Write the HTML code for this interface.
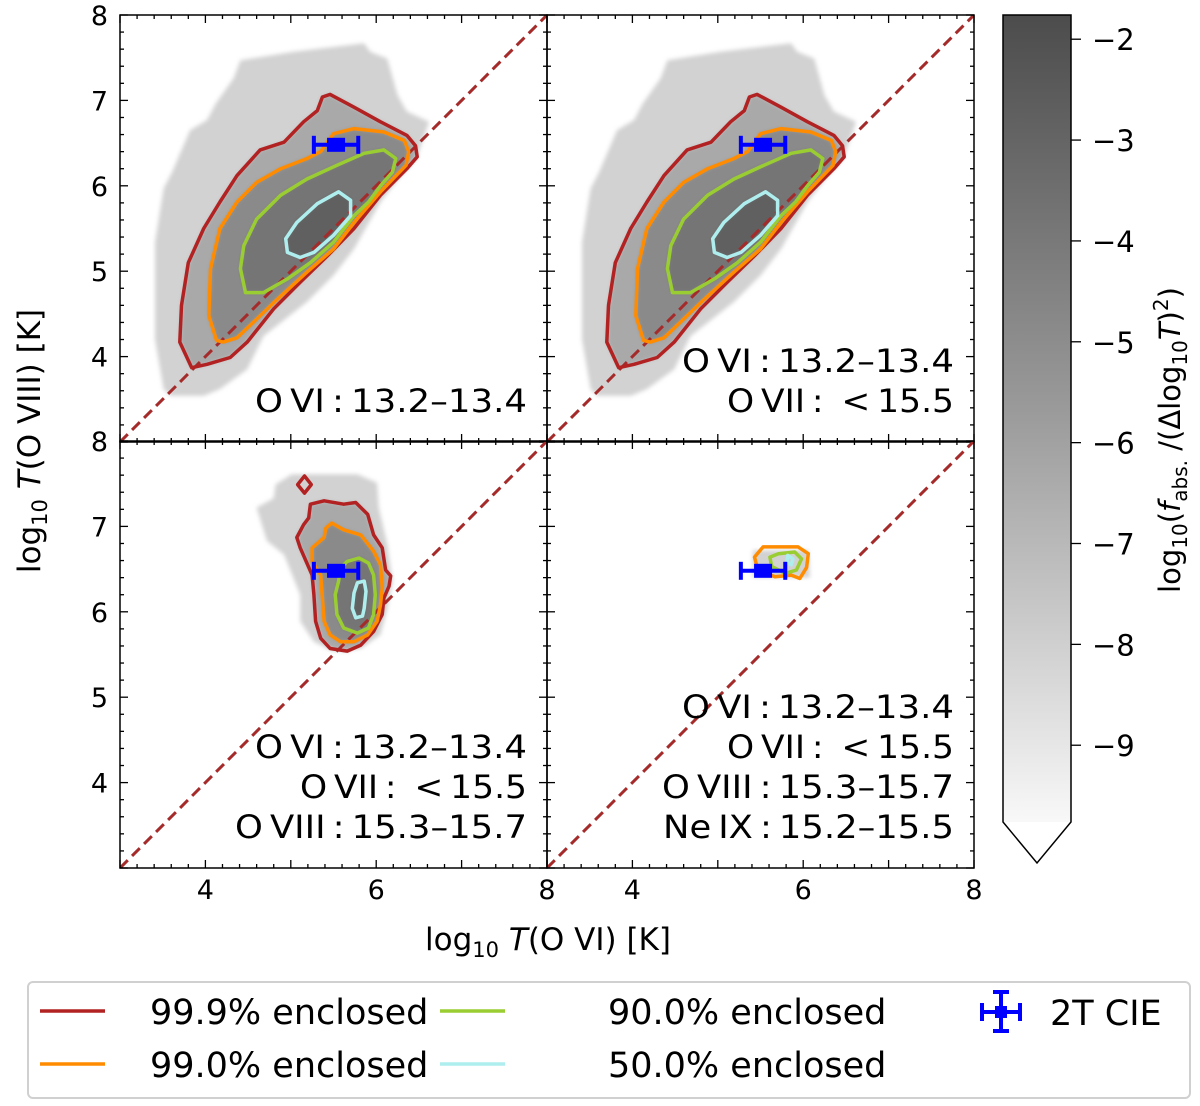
<!DOCTYPE html>
<html><head><meta charset="utf-8"><style>
html,body{margin:0;padding:0;background:#fff}
svg{display:block;font-family:"DejaVu Sans","Liberation Sans",sans-serif}
</style></head><body>
<svg id="chart" xmlns="http://www.w3.org/2000/svg" width="1200" height="1106" viewBox="0 0 1200 1106">
<defs>
<linearGradient id="cbgrad" x1="0" y1="0" x2="0" y2="1">
<stop offset="0" stop-color="#4c4c4c"/><stop offset="0.5" stop-color="#9c9c9c"/><stop offset="1" stop-color="#f8f8f8"/>
</linearGradient>
<filter id="soft" x="-10%" y="-10%" width="120%" height="120%"><feGaussianBlur stdDeviation="2"/></filter>
</defs>
<g id="panels"></g>
<g id="colorbar">
<rect x="1003" y="15" width="68" height="807" fill="url(#cbgrad)"/>
<path d="M1003,822 H1071 L1037,863 Z" fill="#fff"/>
<path d="M1003,15 H1071 V822 L1037,863 L1003,822 Z" fill="none" stroke="#000" stroke-width="1.5"/>
<text transform="translate(1180,440) rotate(-90)" text-anchor="middle" font-size="29">log<tspan font-size="20" dy="7">10</tspan><tspan dy="-7">(</tspan><tspan font-style="italic">f</tspan><tspan font-size="20" dy="7">abs.</tspan><tspan dy="-7"> /(Δlog</tspan><tspan font-size="20" dy="7">10</tspan><tspan dy="-7" font-style="italic">T</tspan><tspan>)</tspan><tspan font-size="20" dy="-12">2</tspan><tspan dy="12">)</tspan></text>
</g>
<text x="548" y="950" text-anchor="middle" font-size="31">log<tspan font-size="21" dy="7">10</tspan><tspan dy="-7" font-style="italic"> T</tspan><tspan>(O VI) [K]</tspan></text>
<text transform="translate(40,441) rotate(-90)" text-anchor="middle" font-size="31">log<tspan font-size="21" dy="7">10</tspan><tspan dy="-7" font-style="italic"> T</tspan><tspan>(O VIII) [K]</tspan></text>
<g id="legend">
<rect x="28" y="982" width="1162" height="116" rx="5" fill="#fff" stroke="#d0d0d0" stroke-width="2"/>
<g><line x1="40" y1="1011" x2="105" y2="1011" stroke="#b22222" stroke-width="3.5"/><text x="150" y="1024" font-size="35">99.9% enclosed</text></g>
<g><line x1="40" y1="1064" x2="105" y2="1064" stroke="#ff8c00" stroke-width="3.5"/><text x="150" y="1077" font-size="35">99.0% enclosed</text></g>
<g><line x1="440" y1="1011" x2="505" y2="1011" stroke="#9acd32" stroke-width="3.5"/><text x="608" y="1024" font-size="35">90.0% enclosed</text></g>
<g><line x1="440" y1="1064" x2="505" y2="1064" stroke="#afeeee" stroke-width="3.5"/><text x="608" y="1077" font-size="35">50.0% enclosed</text></g>
<g stroke="#0000ff" stroke-width="4"><line x1="982" y1="1012" x2="1020" y2="1012"/><line x1="1001" y1="992" x2="1001" y2="1031"/><line x1="982" y1="1003" x2="982" y2="1021"/><line x1="1020" y1="1003" x2="1020" y2="1021"/><line x1="993" y1="992" x2="1009" y2="992"/><line x1="993" y1="1031" x2="1009" y2="1031"/><rect x="995" y="1006" width="12" height="12" fill="#0000ff" stroke="none"/><text x="1050" y="1025" font-size="35" fill="#000" stroke="none">2T CIE</text></g>
</g>
</svg>
<script>
// ---- data (log10 T values) ----
const topGray = [[3.51,3.62],[3.41,4.20],[3.41,5.34],[3.51,5.97],[3.61,6.16],[3.82,6.65],[4.02,6.77],[4.12,6.96],[4.33,7.26],[4.41,7.47],[5.03,7.57],[5.86,7.67],[5.93,7.57],[6.13,7.49],[6.25,7.06],[6.36,6.87],[6.62,6.75],[6.50,6.40],[6.05,5.81],[5.74,5.26],[5.50,4.95],[5.19,4.64],[4.68,4.24],[4.49,3.85],[4.17,3.62],[3.98,3.54],[3.59,3.54]];
const topRed = [[3.84,3.87],[3.70,4.17],[3.72,4.60],[3.80,5.10],[3.98,5.50],[4.17,5.81],[4.37,6.12],[4.64,6.42],[4.92,6.51],[5.15,6.75],[5.31,6.88],[5.37,7.04],[5.46,7.07],[5.74,6.92],[6.05,6.75],[6.36,6.59],[6.46,6.47],[6.48,6.34],[6.36,6.20],[6.05,5.89],[5.74,5.50],[5.43,5.18],[5.11,4.87],[4.80,4.56],[4.49,4.17],[4.29,3.99],[4.02,3.91]];
const topOrange = [[4.13,4.19],[4.04,4.48],[4.06,5.03],[4.17,5.50],[4.37,5.81],[4.60,6.04],[4.88,6.20],[5.19,6.32],[5.35,6.40],[5.50,6.61],[5.74,6.67],[6.09,6.63],[6.33,6.53],[6.38,6.40],[6.35,6.24],[6.05,5.93],[5.74,5.57],[5.50,5.26],[5.19,4.99],[4.84,4.67],[4.56,4.40],[4.37,4.22],[4.21,4.17]];
const topGreen = [[4.47,4.75],[4.41,5.03],[4.45,5.30],[4.60,5.61],[4.88,5.89],[5.19,6.08],[5.54,6.24],[5.86,6.38],[6.09,6.42],[6.23,6.32],[6.19,6.16],[6.05,6.00],[5.91,5.81],[5.74,5.65],[5.50,5.34],[5.23,5.10],[4.96,4.91],[4.68,4.75]];
const topCyan = [[4.96,5.22],[4.94,5.38],[5.07,5.57],[5.31,5.79],[5.56,5.93],[5.70,5.83],[5.70,5.65],[5.50,5.42],[5.27,5.22],[5.11,5.16]];
const blGray = [[5.01,7.61],[5.78,7.61],[6.01,7.51],[6.03,7.22],[6.13,6.79],[6.19,6.36],[6.13,6.04],[6.05,5.73],[5.82,5.57],[5.50,5.54],[5.27,5.65],[5.11,5.89],[5.11,6.20],[4.92,6.67],[4.72,6.83],[4.60,7.22],[4.80,7.33],[4.82,7.49]];
const blRed = [[5.23,7.26],[5.39,7.30],[5.62,7.26],[5.76,7.28],[5.90,7.14],[5.97,6.90],[6.07,6.75],[6.11,6.49],[6.17,6.42],[6.15,6.30],[6.09,6.16],[6.07,5.97],[5.97,5.77],[5.82,5.61],[5.66,5.54],[5.46,5.57],[5.35,5.69],[5.29,5.89],[5.27,6.20],[5.25,6.43],[5.11,6.75],[5.07,6.87],[5.15,7.02],[5.21,7.10]];
const blRedIsland = [[5.16,7.59],[5.24,7.49],[5.16,7.39],[5.08,7.49]];
const blOrange = [[5.25,6.75],[5.39,6.87],[5.41,6.98],[5.48,7.04],[5.62,6.96],[5.82,6.90],[5.97,6.71],[6.05,6.55],[6.07,6.28],[6.05,6.08],[6.01,5.89],[5.90,5.73],[5.74,5.65],[5.58,5.65],[5.46,5.73],[5.39,5.89],[5.37,6.16],[5.35,6.43],[5.25,6.59]];
const blGreen = [[5.58,6.51],[5.66,6.59],[5.80,6.63],[5.91,6.57],[5.97,6.43],[5.99,6.20],[5.97,5.97],[5.91,5.81],[5.78,5.75],[5.62,5.81],[5.54,5.97],[5.52,6.20],[5.56,6.36]];
const blCyan = [[5.74,6.22],[5.78,6.34],[5.86,6.36],[5.88,6.24],[5.86,6.04],[5.84,5.95],[5.76,5.93],[5.72,6.04]];
const brGray = [[5.41,6.72],[6.06,6.72],[6.08,6.40],[5.41,6.40]];
const brOrange = [[5.43,6.64],[5.53,6.76],[5.94,6.76],[6.06,6.68],[6.04,6.52],[5.96,6.39],[5.86,6.43],[5.67,6.41],[5.47,6.49]];
const brGreen = [[5.61,6.64],[5.71,6.68],[5.90,6.70],[5.98,6.62],[5.92,6.49],[5.79,6.45],[5.63,6.53]];
const brCyan = [[5.82,6.66],[5.88,6.62],[5.86,6.55],[5.81,6.58]];
const cieX = [5.53];
const cieY = [6.48];
const cieXerr = [0.26];
const axisTicks = [4, 6, 8];
const yTicks = [8, 7, 6, 5, 4];
const cbTicks = [-2, -3, -4, -5, -6, -7, -8, -9];
const labelsTL = ["O\u2009VI\u2009:\u200913.2–13.4"];
const labelsTR = ["O\u2009VI\u2009:\u200913.2–13.4", "O\u2009VII\u2009:\u2009 <\u200915.5"];
const labelsBL = ["O\u2009VI\u2009:\u200913.2–13.4", "O\u2009VII\u2009:\u2009 <\u200915.5", "O\u2009VIII\u2009:\u200915.3–15.7"];
const labelsBR = ["O\u2009VI\u2009:\u200913.2–13.4", "O\u2009VII\u2009:\u2009 <\u200915.5", "O\u2009VIII\u2009:\u200915.3–15.7", "Ne\u2009IX\u2009:\u200915.2–15.5"];
const labelWidths = [272, 227, 292, 291];
const labelKeys = ["O\u2009VI", "O\u2009VII", "O\u2009VIII", "Ne\u2009IX"];

const NS = "http://www.w3.org/2000/svg";
const LO = 3, HI = 8, SIZE = 427;
function mk(tag, attrs, parent){ const e = document.createElementNS(NS, tag); for (const k in attrs) e.setAttribute(k, attrs[k]); parent.appendChild(e); return e; }
function widthFor(s){ const k = s.split('\u2009:')[0]; return labelWidths[labelKeys.indexOf(k)]; }

function drawPanel(name, x0, y0, layers, labels, showX, showY){
  const sx = v => x0 + (v - LO) / (HI - LO) * SIZE;
  const sy = v => y0 + (HI - v) / (HI - LO) * SIZE;
  const g = mk('g', {}, document.getElementById('panels'));
  
  
  const cid = 'clip-' + name;
  const cp = mk('clipPath', {id: cid}, g);
  mk('rect', {x: x0, y: y0, width: SIZE, height: SIZE}, cp);
  const inner = mk('g', {'clip-path': 'url(#' + cid + ')'}, g);
  const pts = arr => arr.map(p => sx(p[0]).toFixed(1) + ',' + sy(p[1]).toFixed(1)).join(' ');
  const dens = mk('g', {filter: 'url(#soft)'}, inner);
  
  
  const fills = ['#d2d2d2', '#a9a9a9', '#8a8a8a', '#747474', '#606060'];
  layers.fill.forEach((arr, i) => {
    const p = mk('polygon', {points: pts(arr), fill: fills[i]}, dens);
    
    
  });
  const d = mk('line', {x1: sx(LO), y1: sy(LO), x2: sx(HI), y2: sy(HI), stroke: '#a52a2a', 'stroke-width': 3, 'stroke-dasharray': '11,6'}, inner);
  
  
  layers.lines.forEach(l => {
    const p = mk('polygon', {points: pts(l.d), fill: 'none', stroke: l.c, 'stroke-width': 3.5, 'stroke-linejoin': 'round'}, inner);
    
    
  });
  const eb = mk('g', {stroke: '#0000ff', 'stroke-width': 4}, inner);
  
  
  const cx = sx(cieX[0]), cy = sy(cieY[0]), xl = sx(cieX[0] - cieXerr[0]), xr = sx(cieX[0] + cieXerr[0]);
  mk('line', {x1: xl, y1: cy, x2: xr, y2: cy}, eb);
  mk('line', {x1: xl, y1: cy - 9, x2: xl, y2: cy + 9}, eb);
  mk('line', {x1: xr, y1: cy - 9, x2: xr, y2: cy + 9}, eb);
  mk('rect', {x: cx - 9, y: cy - 7, width: 18, height: 14, fill: '#0000ff', stroke: 'none'}, eb);
  const fr = mk('rect', {x: x0, y: y0, width: SIZE, height: SIZE, fill: 'none', stroke: '#000', 'stroke-width': 1.5}, g);
  
  
  const tk = mk('g', {stroke: '#000', 'stroke-width': 1.3}, g);
  for (let i = 0; i <= 25; i++) {
    const v = LO + i * 0.2; const len = (Math.abs(v - Math.round(v)) < 1e-6) ? 8 : 4;
    const px = sx(v), py = sy(v);
    mk('line', {x1: px, y1: y0 + SIZE, x2: px, y2: y0 + SIZE - len}, tk);
    mk('line', {x1: px, y1: y0, x2: px, y2: y0 + len}, tk);
    mk('line', {x1: x0, y1: py, x2: x0 + len, y2: py}, tk);
    mk('line', {x1: x0 + SIZE, y1: py, x2: x0 + SIZE - len, y2: py}, tk);
  }
  if (showX) axisTicks.forEach(v => {
    const t = mk('text', {x: sx(v), y: y0 + SIZE + 31, 'text-anchor': 'middle', 'font-size': 27}, g);
    t.textContent = v;
    
    
  });
  if (showY) yTicks.forEach(v => {
    const t = mk('text', {x: x0 - 12, y: sy(v) + 10, 'text-anchor': 'end', 'font-size': 27}, g);
    t.textContent = v;
    
    
  });
  const n = labels.length;
  labels.forEach((s, i) => {
    const w = widthFor(s);
    const t = mk('text', {x: x0 + SIZE - 20 - w, y: y0 + SIZE - 30 - (n - 1 - i) * 40, 'font-size': 32, textLength: w, lengthAdjust: 'spacingAndGlyphs'}, g);
    t.textContent = s;
    
    
  });
}
const topLayers = {fill: [topGray, topRed, topOrange, topGreen, topCyan], lines: [
  {d: topRed, c: '#b22222', n: 'contour-99-9'}, {d: topOrange, c: '#ff8c00', n: 'contour-99-0'},
  {d: topGreen, c: '#9acd32', n: 'contour-90-0'}, {d: topCyan, c: '#afeeee', n: 'contour-50-0'}]};
const blLayers = {fill: [blGray, blRed, blOrange, blGreen, blCyan], lines: [
  {d: blRed, c: '#b22222', n: 'contour-99-9'}, {d: blRedIsland, c: '#b22222', n: 'contour-99-9-island'},
  {d: blOrange, c: '#ff8c00', n: 'contour-99-0'}, {d: blGreen, c: '#9acd32', n: 'contour-90-0'}, {d: blCyan, c: '#afeeee', n: 'contour-50-0'}]};
const brLayers = {fill: [brGray], lines: [
  {d: brOrange, c: '#ff8c00', n: 'contour-99-0'}, {d: brGreen, c: '#9acd32', n: 'contour-90-0'}, {d: brCyan, c: '#afeeee', n: 'contour-50-0'}]};
drawPanel('panel-top-left', 120, 15, topLayers, labelsTL, false, true);
drawPanel('panel-top-right', 547, 15, topLayers, labelsTR, false, false);
drawPanel('panel-bottom-left', 120, 441, blLayers, labelsBL, true, true);
drawPanel('panel-bottom-right', 547, 441, brLayers, labelsBR, true, false);

const cb = document.getElementById('colorbar');
const cbTop = -1.76, cbPx = 100.86;
cbTicks.forEach(v => {
  const y = 15 + (cbTop - v) * cbPx;
  const l = mk('line', {x1: 1071, y1: y, x2: 1081, y2: y, stroke: '#000', 'stroke-width': 1.3}, cb);
  
  
  const t = mk('text', {x: 1092, y: y + 11, 'font-size': 29}, cb);
  t.textContent = '\u2212' + Math.abs(v);
  
  
});
</script>
</body></html>
